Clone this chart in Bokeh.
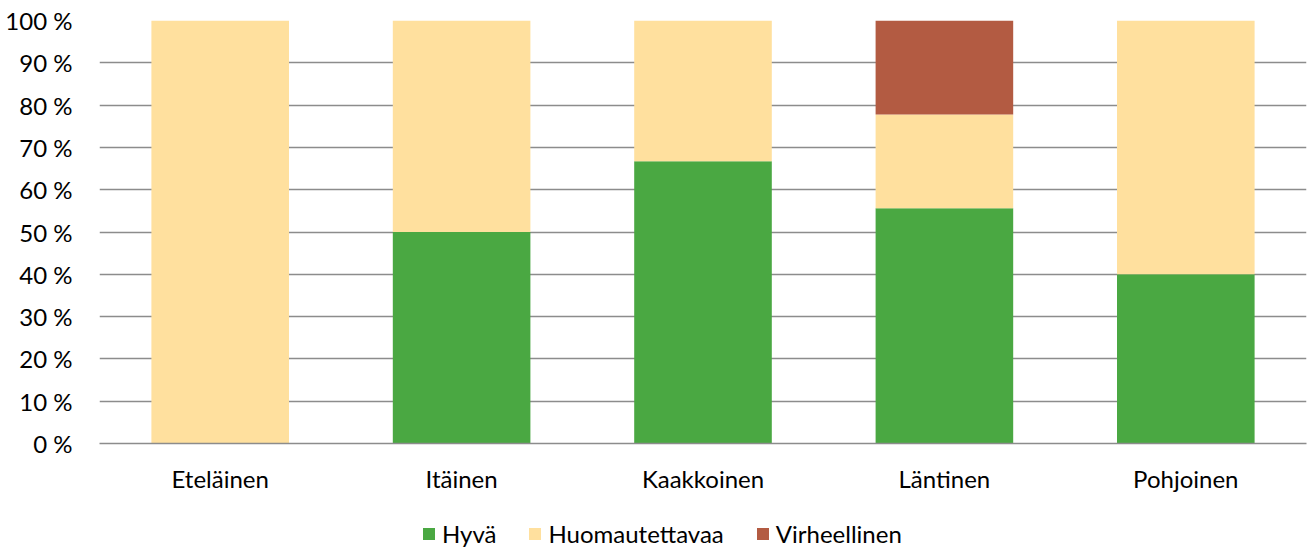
from bokeh.plotting import figure
from bokeh.layouts import column
from bokeh.models import FactorRange, FixedTicker, Legend, LegendItem, ColumnDataSource, Range1d
from bokeh.embed import file_html
from bokeh.resources import INLINE

regions = ["Eteläinen", "Itäinen", "Kaakkoinen", "Läntinen", "Pohjoinen"]
series = ["Hyvä", "Huomautettavaa", "Virheellinen"]
hyva = [0.0, 50.0, 66.7, 55.6, 40.0]
huomautettavaa = [100.0, 50.0, 33.3, 22.2, 60.0]
virheellinen = [0.0, 0.0, 0.0, 22.2, 0.0]
colors = ["#4AA842", "#FFE09E", "#B35B42"]
y_ticks = [0, 10, 20, 30, 40, 50, 60, 70, 80, 90, 100]

FONT = "Lato"
FSIZE = "24px"

source = ColumnDataSource(data=dict(region=regions, **{
    "Hyvä": hyva, "Huomautettavaa": huomautettavaa, "Virheellinen": virheellinen}))

p = figure(x_range=FactorRange(*regions, range_padding=0), y_range=(0, 100),
           width=1307, height=500, output_backend="svg", toolbar_location=None,
           min_border_left=99, min_border_right=1, min_border_top=20, min_border_bottom=57)
p.outline_line_color = None
p.background_fill_color = "white"
p.border_fill_color = "white"

renderers = p.vbar_stack(series, x="region", width=0.57, color=colors, source=source,
                         line_color=None)

p.xgrid.grid_line_color = None
p.ygrid.grid_line_color = "#8C8C8C"
p.ygrid.grid_line_width = 1.5
p.ygrid.ticker = FixedTicker(ticks=y_ticks)

p.yaxis.ticker = FixedTicker(ticks=y_ticks)
p.yaxis.major_label_overrides = {t: f"{t} %" for t in y_ticks}
p.yaxis.axis_line_color = None
p.yaxis.major_tick_line_color = None
p.yaxis.minor_tick_line_color = None
p.yaxis.major_tick_out = 0
p.yaxis.major_label_standoff = 27
p.yaxis.major_label_text_font = FONT
p.yaxis.major_label_text_font_size = FSIZE
p.yaxis.major_label_text_color = "#000000"

p.xaxis.axis_line_color = "#8C8C8C"
p.xaxis.axis_line_width = 1.5
p.xaxis.major_tick_line_color = None
p.xaxis.major_tick_out = 0
p.xaxis.major_label_standoff = 20
p.xaxis.major_label_text_font = FONT
p.xaxis.major_label_text_font_size = FSIZE
p.xaxis.major_label_text_color = "#000000"

# legend strip below the chart (frame aligned with the chart frame by the column layout)
lf = figure(width=1307, height=50, output_backend="svg", toolbar_location=None,
            x_range=Range1d(0, 1), y_range=Range1d(0, 1),
            min_border_left=99, min_border_right=1, min_border_top=0, min_border_bottom=0)
lf.xaxis.visible = False
lf.yaxis.visible = False
lf.grid.visible = False
lf.outline_line_color = None
lf.background_fill_color = "white"
lf.border_fill_color = "white"
# zero-height swatch renderers, used only for the legend glyphs
dummy = [lf.vbar(x=[0.5], top=[0], bottom=[0], width=0.1, color=c, line_color=None)
         for c in colors]

legend = Legend(items=[LegendItem(label=s, renderers=[r]) for s, r in zip(series, dummy)],
                orientation="horizontal", location=(322, 2),
                glyph_width=15, glyph_height=15, label_standoff=6, spacing=31,
                label_text_font=FONT, label_text_font_size=FSIZE, label_text_color="#000000",
                border_line_color=None, background_fill_alpha=0, margin=0, padding=0)
lf.add_layout(legend, "center")

layout = column(p, lf, spacing=0)
open("out.html", "w").write(file_html(layout, INLINE))
